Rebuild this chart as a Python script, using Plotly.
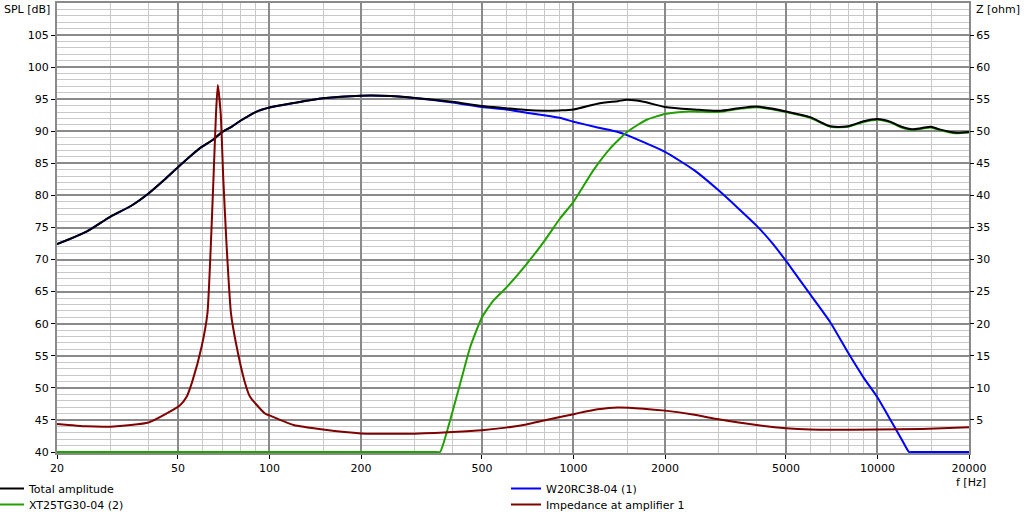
import plotly.graph_objects as go

# ---------------- data ----------------
f_total = [20, 25, 30, 35, 40, 45, 50, 55, 60, 65, 70, 75, 80, 90, 100, 120, 150, 200, 250, 300,
           400, 500, 600, 700, 800, 900, 1000, 1200, 1400, 1500, 1700, 2000, 2500, 3000, 3500, 4000,
           5000, 6000, 7000, 8000, 9000, 10000, 11000, 12000, 13000, 14000, 15000, 16000, 18000, 20000]
spl_total = [72.4, 74.35, 76.7, 78.35, 80.3, 82.4, 84.4, 86.15, 87.6, 88.65, 89.9, 90.7, 91.6, 93.0, 93.7,
             94.4, 95.15, 95.55, 95.5, 95.2, 94.6, 93.95, 93.6, 93.3, 93.2, 93.25, 93.4, 94.3, 94.7, 94.9,
             94.6, 93.8, 93.4, 93.2, 93.6, 93.85, 93.1, 92.2, 90.8, 90.8, 91.55, 91.9, 91.5, 90.7, 90.3,
             90.5, 90.7, 90.3, 89.8, 89.9]

f_woofer = [20, 25, 30, 35, 40, 45, 50, 55, 60, 65, 70, 75, 80, 90, 100, 120, 150, 200, 250, 300,
            400, 500, 600, 700, 800, 900, 1000, 1200, 1400, 1500, 1700, 2000, 2500, 3000, 3500, 4000,
            4500, 5000, 6000, 7000, 8000, 9000, 10000, 11000, 12000, 12700, 13000, 14000, 18000, 20000]
spl_woofer = [72.4, 74.35, 76.7, 78.35, 80.3, 82.4, 84.4, 86.15, 87.6, 88.65, 89.9, 90.7, 91.6, 93.0, 93.7,
              94.4, 95.15, 95.55, 95.5, 95.2, 94.5, 93.8, 93.4, 92.9, 92.5, 92.1, 91.5, 90.6, 89.9, 89.4,
              88.3, 86.8, 83.9, 80.8, 77.9, 75.3, 72.6, 69.8, 64.6, 60.2, 55.5, 51.6, 48.5, 45.1, 42.0,
              40.0, 40.0, 40.0, 40.0, 40.0]

f_tweeter = [20, 50, 150, 300, 350, 364, 392, 423, 457, 500, 545, 603, 701, 805, 903, 1000, 1162, 1319,
             1500, 1741, 2000, 2400, 3000, 3500, 4000, 5000, 6000, 7000, 8000, 9000, 10000, 11000, 12000,
             13000, 14000, 15000, 16000, 18000, 20000]
spl_tweeter = [40.0, 40.0, 40.0, 40.0, 40.0, 40.0, 44.8, 50.5, 56.3, 61.0, 63.6, 65.7, 69.3, 73.0, 76.4,
               79.0, 83.9, 87.3, 89.9, 91.8, 92.7, 93.1, 93.0, 93.5, 93.75, 93.0, 92.1, 90.7, 90.7, 91.45,
               91.8, 91.4, 90.6, 90.2, 90.4, 90.6, 90.2, 89.7, 89.8]

f_imp = [20, 25, 30, 35, 40, 45, 50.8, 53.4, 55.9, 59.8, 62.5, 64.1, 65.4, 66.7, 67.6, 69.1, 70.5, 72.3,
         74.7, 78.0, 82.6, 86.3, 96.6, 100, 120, 150, 200, 250, 300, 350, 400, 500, 600, 700, 800, 1000,
         1200, 1400, 1700, 2000, 2500, 3000, 4000, 5000, 6000, 10000, 14000, 20000]
z_imp = [4.37, 4.0, 3.95, 4.2, 4.6, 5.8, 7.3, 8.6, 11.2, 16.4, 21.6, 32.0, 42.4, 52.8, 57.2, 52.8, 42.4,
         32.0, 21.6, 16.4, 11.2, 8.6, 6.0, 5.7, 4.2, 3.5, 2.9, 2.86, 2.86, 2.96, 3.1, 3.4, 3.8, 4.3, 4.9,
         5.9, 6.65, 6.95, 6.76, 6.45, 5.8, 5.1, 4.2, 3.7, 3.5, 3.5, 3.6, 3.85]

x_major = [20, 50, 100, 200, 500, 1000, 2000, 5000, 10000, 20000]
x_minor = [30, 40, 60, 70, 80, 90, 150, 300, 400, 600, 700, 800, 900, 1500, 3000, 4000,
           6000, 7000, 8000, 9000, 15000]
spl_ticks = list(range(40, 110, 5))
z_ticks = list(range(5, 70, 5))

# ---------------- figure ----------------
FONT = "DejaVu Sans"
MAJ = "#8a8a8a"
MIN = "#c8c8c8"
PAD = 70 / 449  # one pixel of extra room under the 40 dB / 0 ohm line

fig = go.Figure()
fig.add_trace(go.Scatter(x=f_woofer, y=spl_woofer, mode="lines", name="W20RC38-04 (1)",
                         line=dict(color="#0000ff", width=2, shape="spline", smoothing=0.6),
                         legend="legend3"))
fig.add_trace(go.Scatter(x=f_tweeter, y=spl_tweeter, mode="lines", name="XT25TG30-04 (2)",
                         line=dict(color="#22a000", width=2, shape="spline", smoothing=0.5),
                         legend="legend2"))
fig.add_trace(go.Scatter(x=f_total, y=spl_total, mode="lines", name="Total amplitude",
                         line=dict(color="#000000", width=2, shape="spline", smoothing=0.8),
                         legend="legend"))
fig.add_trace(go.Scatter(x=f_imp, y=z_imp, mode="lines", name="Impedance at amplifier 1",
                         line=dict(color="#800000", width=2, shape="spline", smoothing=0.5),
                         yaxis="y2", legend="legend4"))


def leg(xpx, ytop):
    return dict(orientation="h", xref="paper", yref="container",
                x=(xpx - 57) / 912, y=1 - ytop / 520,
                xanchor="left", yanchor="top", itemwidth=30,
                font=dict(family=FONT, size=11), bgcolor="rgba(0,0,0,0)")


fig.update_layout(
    width=1029, height=520,
    margin=dict(l=57, r=60, t=3, b=67, autoexpand=False),
    paper_bgcolor="white", plot_bgcolor="white",
    font=dict(family=FONT, size=11, color="black"),
    showlegend=True,
    legend=leg(-11, 474),
    legend2=leg(-11, 490),
    legend3=leg(506, 474),
    legend4=leg(506, 490),
    xaxis=dict(type="log", range=[1.30103, 4.30103], tickvals=x_major,
               ticktext=[str(v) for v in x_major], showgrid=True, gridcolor=MAJ, gridwidth=2,
               minor=dict(tickvals=x_minor, showgrid=True, gridcolor=MIN, gridwidth=1, ticks=""),
               ticks="outside", ticklen=4, tickcolor="black", showline=True, mirror=True,
               linecolor=MAJ, linewidth=2, zeroline=False, layer="below traces", automargin=False),
    yaxis=dict(range=[40 - PAD, 110], tickvals=spl_ticks, showgrid=True, gridcolor=MAJ, gridwidth=2,
               minor=dict(tickvals=[v for v in range(41, 110) if v % 5], showgrid=True,
                          gridcolor=MIN, gridwidth=1, ticks=""),
               ticks="outside", ticklen=4, tickcolor="black", showline=True, mirror=True,
               linecolor=MAJ, linewidth=2, zeroline=False, layer="below traces", automargin=False),
    yaxis2=dict(range=[0 - PAD, 70], overlaying="y", side="right", tickvals=z_ticks, showgrid=False,
                ticks="outside", ticklen=4, tickcolor="black", zeroline=False, showline=False,
                automargin=False),
    annotations=[
        dict(text="SPL [dB]", xref="paper", yref="paper", x=-55 / 912, y=(453 - 10) / 450,
             xanchor="left", yanchor="middle", showarrow=False, font=dict(family=FONT, size=11)),
        dict(text="Z [ohm]", xref="paper", yref="paper", x=(974 - 57) / 912, y=(453 - 10) / 450,
             xanchor="left", yanchor="middle", showarrow=False, font=dict(family=FONT, size=11)),
        dict(text="f [Hz]", xref="paper", yref="paper", x=(954 - 57) / 912, y=(453 - 482) / 450,
             xanchor="left", yanchor="middle", showarrow=False, font=dict(family=FONT, size=11)),
    ],
)

fig.write_html("out.html", config={"displayModeBar": False},
               post_script="document.body.style.margin='0';document.body.style.overflow='hidden';")
